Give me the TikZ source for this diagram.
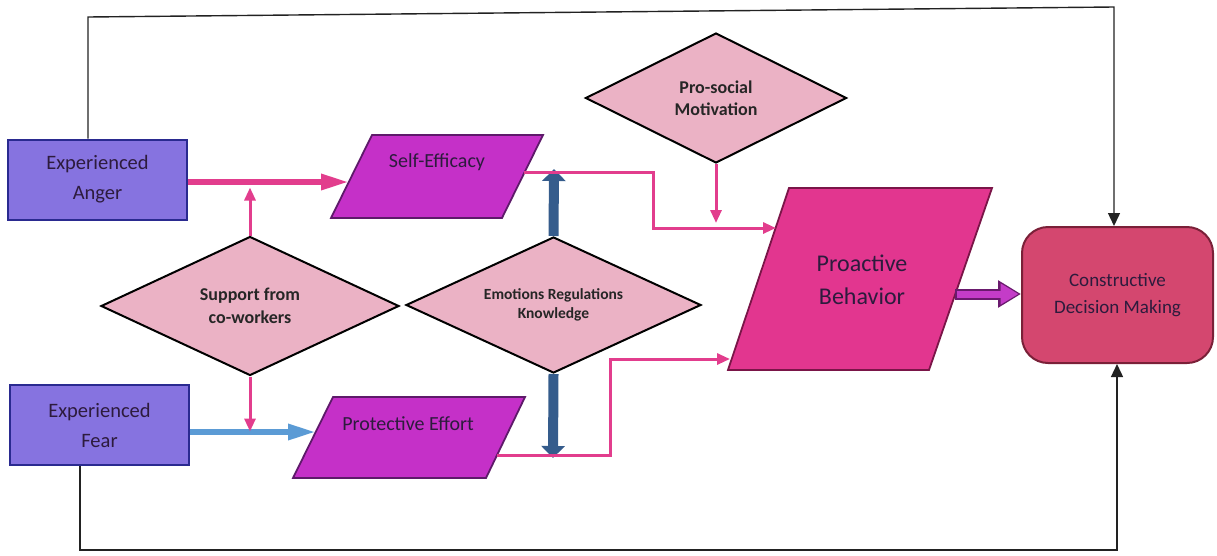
\documentclass[tikz,border=0pt]{standalone}
\usepackage{fontspec}
\setmainfont{Carlito}
\usetikzlibrary{shapes.geometric,arrows.meta,calc}
\definecolor{expfill}{HTML}{8673E0}
\definecolor{expdraw}{HTML}{2A2A90}
\definecolor{parfill}{HTML}{C530C8}
\definecolor{pardraw}{HTML}{5E1A6A}
\definecolor{diafill}{HTML}{EBB2C5}
\definecolor{profill}{HTML}{E2368F}
\definecolor{prodraw}{HTML}{7A1548}
\definecolor{cdmfill}{HTML}{D4476F}
\definecolor{cdmdraw}{HTML}{7A2038}
\definecolor{pinkline}{HTML}{E23D8D}
\definecolor{fearblue}{HTML}{5B9BD5}
\definecolor{erkblue}{HTML}{355C8C}
\definecolor{txtcol}{HTML}{2D1B3D}
\definecolor{fbline}{HTML}{222222}
\definecolor{arrowpurple}{HTML}{C43CC8}
\definecolor{arrowdark}{HTML}{6A1A6E}
\begin{document}
\begin{tikzpicture}[x=1pt,y=-1pt,
  expbox/.style={rectangle,draw=expdraw,fill=expfill,line width=2pt,minimum width=179pt,minimum height=80pt,inner sep=0pt,align=center,text=txtcol,font=\fontsize{20.5}{30}\selectfont},
  parshape/.style={draw=pardraw,fill=parfill,line width=1.8pt,line join=miter},
  proshape/.style={draw=prodraw,fill=profill,line width=1.8pt,line join=miter},
  ptxt/.style={inner sep=0pt,text=txtcol,align=center},
  diabox/.style={diamond,draw=black,fill=diafill,line width=2pt,inner sep=0pt,shape aspect=2.1,align=center,font=\bfseries,text=black!85},
  cdmbox/.style={rectangle,rounded corners=26pt,draw=cdmdraw,fill=cdmfill,line width=2pt,minimum width=191pt,minimum height=136pt,inner sep=0pt,align=center,text=txtcol,font=\fontsize{19}{27}\selectfont},
  pinkthin/.style={draw=pinkline,line width=3pt,-{Triangle[length=13pt,width=11pt]}},
  pinkthick/.style={draw=pinkline,line width=6pt,-{Triangle[length=28pt,width=15pt]}},
  bluethick/.style={draw=fearblue,line width=6pt,-{Triangle[length=28pt,width=15pt]}},
  erkarrow/.style={draw=erkblue,line width=10pt,-{Triangle[length=12pt,width=23pt]}},
  fbarrow/.style={draw=fbline,line width=1.4pt,-{Triangle[length=13pt,width=12pt]}},
  bigarrowout/.style={draw=arrowdark,line width=11pt,-{Triangle[length=23pt,width=26pt]}},
  bigarrowin/.style={draw=arrowpurple,line width=7pt,shorten >=2.5pt,shorten <=1.5pt,-{Triangle[length=18pt,width=20pt]}}
]
\useasboundingbox (0,0) rectangle (1217,555);

% Experienced boxes
\node[expbox] (anger) at (97.5,179.5) {Experienced\\Anger};
\node[expbox] (fear) at (99.5,425) {Experienced\\Fear};

% Self-Efficacy parallelogram
\draw[parshape] (372,135) -- (543,135) -- (502,218) -- (331,218) -- cycle;
\node[ptxt,font=\fontsize{20}{24}\selectfont] (se) at (437,162) {Self-Efficacy};
\coordinate (seIn) at (349,182);
\coordinate (seOut) at (524,172);
\coordinate (seBlue) at (554,169);

% Protective Effort parallelogram
\draw[parshape] (333,397) -- (525,397) -- (486,478) -- (293,478) -- cycle;
\node[ptxt,font=\fontsize{20}{24}\selectfont] (pe) at (408,424) {Protective Effort};
\coordinate (peIn) at (316,432);
\coordinate (peOut) at (497,455);
\coordinate (peBlue) at (553,458);

% Proactive Behavior parallelogram
\draw[proshape] (789,188) -- (992,188) -- (929,370) -- (728,370) -- cycle;
\node[ptxt,font=\fontsize{24}{33}\selectfont] (pb) at (862,280) {Proactive\\Behavior};
\coordinate (pbIn1) at (776,228);
\coordinate (pbIn2) at (730,359);
\coordinate (pbOut) at (955,294);

% Constructive Decision Making
\node[cdmbox] (cdm) at (1117.5,295) {Constructive\\Decision Making};

% Diamonds
\node[diabox,minimum width=261pt,minimum height=130pt,font=\bfseries\fontsize{18}{22}\selectfont] (psm) at (716,98) {Pro-social\\Motivation};
\node[diabox,minimum width=298pt,minimum height=139pt,font=\bfseries\fontsize{18}{23}\selectfont] (sup) at (250,306) {Support from\\co-workers};
\node[diabox,minimum width=295pt,minimum height=136pt,font=\bfseries\fontsize{15.5}{19}\selectfont] (erk) at (553.5,305) {Emotions Regulations\\Knowledge};

% Connectors
\draw[pinkthick] (anger.east |- seIn) -- (seIn);
\draw[bluethick] (fear.east |- peIn) -- (peIn);
\draw[pinkthin] (sup.north) -- ++(0,-48);
\draw[pinkthin] (sup.south) -- ++(0,55);
\draw[erkarrow] (erk.north) -- (seBlue);
\draw[erkarrow] (erk.south) -- (peBlue);
\draw[pinkthin] (seOut) -- (653,172) -- (653,228) -- (pbIn1);
\draw[pinkthin] (peOut) -- (610,455) -- (610,359) -- (pbIn2);
\draw[pinkthin] (psm.south) -- ++(0,59);
\draw[bigarrowout] (pbOut) -- (cdm.west |- pbOut);
\draw[bigarrowin] (pbOut) -- (cdm.west |- pbOut);

% Feedback loops
\coordinate (t1) at (88,17);
\coordinate (t2) at (1114,7);
\draw[fbarrow] (anger.north -| t1) -- (t1) -- (t2) -- (cdm.north -| t2);
\coordinate (b1) at (80,550);
\coordinate (b2) at (1117,550);
\draw[fbarrow] (fear.south -| b1) -- (b1) -- (b2) -- (cdm.south -| b2);
\end{tikzpicture}
\end{document}
